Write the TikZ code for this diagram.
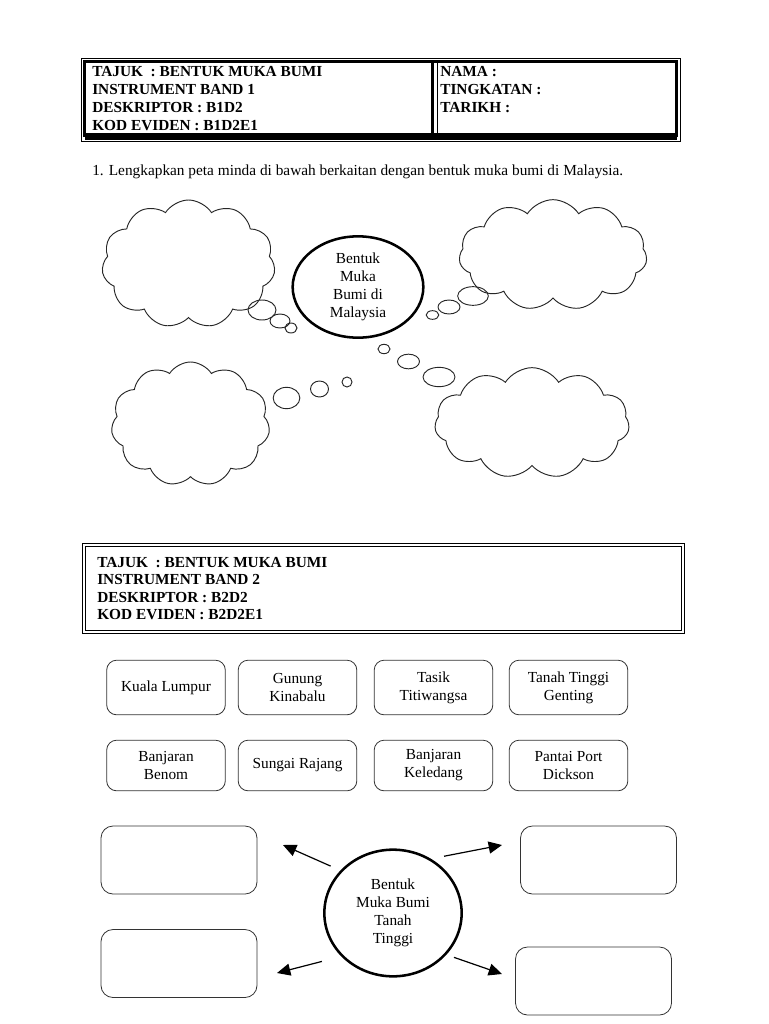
\documentclass[tikz,border=0pt]{standalone}
\usepackage{fontspec}
\setmainfont{Liberation Serif}
\usetikzlibrary{shapes.geometric,shapes.symbols,arrows.meta,positioning}

\tikzset{
  awan/.style={cloud, draw=black!85, line width=0.7pt, cloud puffs=11, cloud puff arc=115, cloud ignores aspect, inner sep=0pt},
  gelembung/.style={ellipse, draw=black!85, line width=0.7pt, inner sep=0pt},
  pilihan/.style={draw=black!80, rounded corners=7.5pt, line width=0.6pt, minimum width=89pt, align=center},
  jawapan/.style={draw=black!80, rounded corners=9pt, line width=0.6pt, minimum width=117pt, minimum height=51pt},
  anakpanah/.style={-{Triangle[length=10pt,width=9pt]}, line width=0.9pt},
  teksbold/.style={font=\fontsize{11.5}{13.5}\selectfont\bfseries, align=left, inner sep=0pt, anchor=north west},
}

\begin{document}
\begin{tikzpicture}[x=0.75pt,y=-0.75pt,font=\fontsize{11.5}{13.5}\selectfont]
    \useasboundingbox[fill=white] (0,0) rectangle (768,1024);

    % kotak tajuk band 1
    \draw[line width=0.6pt] (81,58) rectangle (680,141);
    \draw[line width=2pt] (84.5,61.5) rectangle (676.5,135.5);
    \fill (84.5,133) rectangle (676.5,139.5);
    \draw[line width=2.2pt] (432.5,61.5) -- (432.5,135.5);
    \draw[line width=0.6pt] (437,61.5) -- (437,135.5);
    \node[teksbold] (tajuk1) at (92,66) {TAJUK \ : BENTUK MUKA BUMI\\INSTRUMENT BAND 1\\DESKRIPTOR : B1D2\\KOD EVIDEN : B1D2E1};
    \node[teksbold] (nama) at (440,66) {NAMA :\\TINGKATAN :\\TARIKH :};

    \node[anchor=base west, inner sep=0pt] (soalan) at (92,175) {1. Lengkapkan peta minda di bawah berkaitan dengan bentuk muka bumi di Malaysia.};

    % peta minda
    \node[ellipse, draw, line width=1.9pt, minimum width=98pt, minimum height=76pt, align=center, inner sep=0pt] (pusat) at (358,287) {Bentuk\\Muka\\Bumi di\\Malaysia};

    \node[awan, minimum width=130pt, minimum height=96pt] (awanA) at (188.5,264) {};
    \node[awan, minimum width=141pt, minimum height=83pt] (awanB) at (553,255) {};
    \node[awan, minimum width=119pt, minimum height=93pt] (awanC) at (190.5,424) {};
    \node[awan, minimum width=146pt, minimum height=83pt] (awanD) at (532,423) {};

    \node[gelembung, minimum width=21pt, minimum height=15pt] (gA1) at (262,310) {};
    \node[gelembung, minimum width=15pt, minimum height=10.5pt] (gA2) at (280,321) {};
    \node[gelembung, minimum width=9pt, minimum height=7.5pt] (gA3) at (291,328) {};

    \node[gelembung, minimum width=23pt, minimum height=14pt] (gB1) at (473,296) {};
    \node[gelembung, minimum width=16.5pt, minimum height=10.5pt] (gB2) at (449,307) {};
    \node[gelembung, minimum width=9.5pt, minimum height=6.5pt] (gB3) at (432.5,315) {};

    \node[gelembung, minimum width=9pt, minimum height=7pt] (gD3) at (384,349) {};
    \node[gelembung, minimum width=16.5pt, minimum height=11pt] (gD2) at (408.5,361.5) {};
    \node[gelembung, minimum width=24pt, minimum height=14.5pt] (gD1) at (439,377) {};

    \node[gelembung, minimum width=7.5pt, minimum height=7.5pt] (gC3) at (347,382) {};
    \node[gelembung, minimum width=13.5pt, minimum height=12pt] (gC2) at (319.5,389) {};
    \node[gelembung, minimum width=20pt, minimum height=16pt] (gC1) at (286.5,398) {};

    % kotak tajuk band 2
    \draw[line width=0.6pt] (82,543) rectangle (684,633);
    \draw[line width=0.6pt] (85,546) rectangle (681,630);
    \node[teksbold, font=\fontsize{11.5}{13}\selectfont\bfseries] (tajuk2) at (97,557) {TAJUK \ : BENTUK MUKA BUMI\\INSTRUMENT BAND 2\\DESKRIPTOR : B2D2\\KOD EVIDEN : B2D2E1};

    % pilihan jawapan
    \node[pilihan, minimum height=41pt] (klumpur) at (166,687.5) {Kuala Lumpur};
    \node[pilihan, minimum height=41pt] (kinabalu) at (297.5,687.5) {Gunung\\Kinabalu};
    \node[pilihan, minimum height=41pt] (titiwangsa) at (433.5,687.5) {Tasik\\Titiwangsa};
    \node[pilihan, minimum height=41pt] (genting) at (568.5,687.5) {Tanah Tinggi\\Genting};
    \node[pilihan, minimum height=38pt] (benom) at (166,765.5) {Banjaran\\Benom};
    \node[pilihan, minimum height=38pt] (rajang) at (297.5,765.5) {Sungai Rajang};
    \node[pilihan, minimum height=38pt] (keledang) at (433.5,765.5) {Banjaran\\Keledang};
    \node[pilihan, minimum height=38pt] (dickson) at (568.5,765.5) {Pantai Port\\Dickson};

    % peta tanah tinggi
    \node[ellipse, draw, line width=1.9pt, minimum width=103pt, minimum height=95pt, align=center, inner sep=0pt] (tinggi) at (393,913) {Bentuk\\Muka Bumi\\Tanah\\Tinggi};
    \node[jawapan] (kotakA) at (179,860) {};
    \node[jawapan] (kotakB) at (179,963.5) {};
    \node[jawapan] (kotakC) at (598.5,860) {};
    \node[jawapan] (kotakD) at (593.5,981) {};

    \coordinate (hujungA) at (283,845);
    \coordinate (hujungB) at (277,973);
    \coordinate (hujungC) at (502,845);
    \coordinate (hujungD) at (502,974);
    \draw[anakpanah, shorten <=8pt] (tinggi.141) -- (hujungA);
    \draw[anakpanah, shorten <=15pt] (tinggi.220) -- (hujungB);
    \draw[anakpanah, shorten <=10pt] (tinggi.55) -- (hujungC);
    \draw[anakpanah, shorten <=6pt] (tinggi.322) -- (hujungD);
  \end{tikzpicture}
\end{document}
